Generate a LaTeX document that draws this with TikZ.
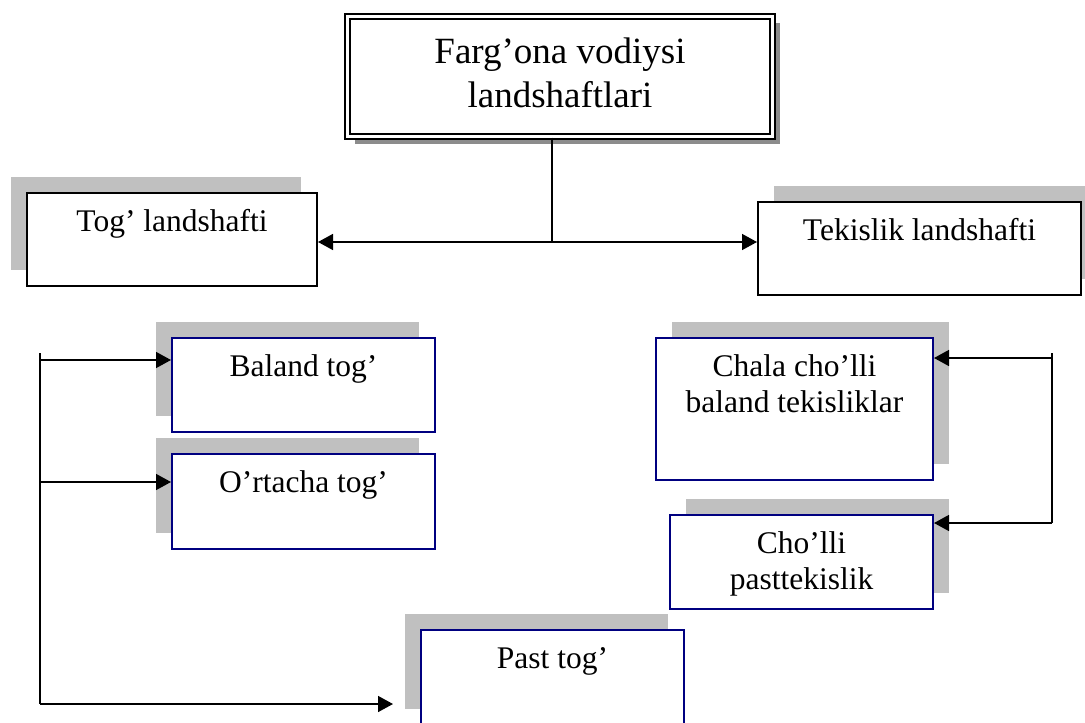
\documentclass[tikz,border=0pt]{standalone}
\usepackage{fontspec}
\setmainfont{Liberation Serif}
\usepackage{tikz}
\usetikzlibrary{arrows.meta,shadows,positioning,calc}
\definecolor{shadowcolor}{RGB}{192,192,192}
\definecolor{darkshadow}{RGB}{140,140,140}
\definecolor{framecolor}{RGB}{0,0,128}
\tikzstyle{landbox}=[rectangle,draw=black,fill=white,line width=1pt,inner sep=0pt]
\tikzstyle{sub box}=[landbox,draw=framecolor]
\tikzstyle{main box}=[landbox,double=white,double distance=1.5pt,
    drop shadow={shadow xshift=3.5pt,shadow yshift=-3.5pt,fill=darkshadow,opacity=1}]
\tikzstyle{shadow left}=[drop shadow={shadow xshift=-8pt,shadow yshift=8pt,fill=shadowcolor,opacity=1}]
\tikzstyle{shadow right}=[drop shadow={shadow xshift=8pt,shadow yshift=8pt,fill=shadowcolor,opacity=1}]
\tikzstyle{boxtext}=[anchor=base,align=center,inner sep=0pt,yshift=-19.5pt,
    font=\fontsize{15.75}{18}\selectfont]
\tikzstyle{twolines}=[boxtext,yshift=-18pt]
\tikzstyle{landedge}=[-{Triangle[length=7.5pt,width=8pt]},line width=0.75pt,black]

\begin{document}
\begin{tikzpicture}[x=0.5pt,y=-0.5pt]
\useasboundingbox (0,0) rectangle (1085,722);

    % top of the tree
    \node[main box, minimum width=212.5pt, minimum height=60pt,
        label={[boxtext,yshift=-26.25pt,font=\fontsize{18.5}{21.5}\selectfont]north:Farg’ona vodiysi\\landshaftlari}]
        (main) at (560,76.5) {};

    \node[landbox, shadow left, minimum width=145pt, minimum height=46.5pt,
        label={[boxtext]north:Tog’ landshafti}] (tog) at (172,239.5) {};
    \node[landbox, shadow right, minimum width=161.5pt, minimum height=46.5pt,
        label={[boxtext]north:Tekislik landshafti}] (tek) at (919.5,248.5) {};

    % mountain side
    \node[sub box, shadow left, minimum width=131.5pt, minimum height=47pt,
        label={[boxtext]north:Baland tog’}] (baland) at (303.5,385) {};
    \node[sub box, shadow left, minimum width=131.5pt, minimum height=47.5pt,
        label={[boxtext]north:O’rtacha tog’}] (ortacha) at (303.5,501.5) {};
    \node[sub box, shadow left, minimum width=131.5pt, minimum height=47.5pt,
        label={[boxtext]north:Past tog’}] (past) at (552.5,677.5) {};

    % plain side
    \node[sub box, shadow right, minimum width=138.5pt, minimum height=71pt,
        label={[twolines]north:Chala cho’lli\\baland tekisliklar}] (chala) at (794.5,409) {};
    \node[sub box, shadow right, minimum width=131.5pt, minimum height=47pt,
        label={[twolines]north:Cho’lli\\pasttekislik}] (cholli) at (801.5,562) {};

    \coordinate (split) at (552,242);
    \coordinate (ltop) at (40,353);
    \coordinate (lbot) at (40,704);
    \coordinate (l1) at (40,360);
    \coordinate (l2) at (40,482);
    \coordinate (rtop) at (1052,353);
    \coordinate (rbot) at (1052,523);
    \coordinate (r1) at (1052,358);

    \draw[line width=0.75pt] (split |- main.south) -- (split);
    \draw[landedge] (split) -- (split -| tog.east);
    \draw[landedge] (split) -- (split -| tek.west);

    \draw[line width=0.75pt] (ltop) -- (lbot);
    \draw[landedge] (l1) -- (l1 -| baland.west);
    \draw[landedge] (l2) -- (l2 -| ortacha.west);
    \draw[landedge, shorten >=13.5pt] (lbot) -- (lbot -| past.west);

    \draw[line width=0.75pt] (rtop) -- (rbot);
    \draw[landedge] (r1) -- (r1 -| chala.east);
    \draw[landedge] (rbot) -- (rbot -| cholli.east);

\end{tikzpicture}
\end{document}
